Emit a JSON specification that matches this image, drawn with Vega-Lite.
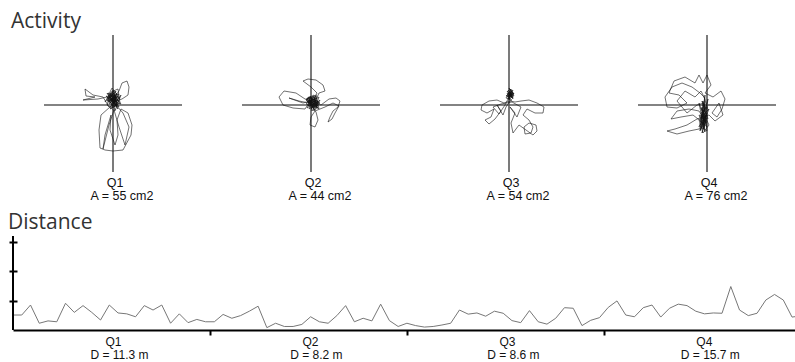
{
  "$schema": "https://vega.github.io/schema/vega-lite/v6.json",
  "background": "white",
  "padding": {"left": 8, "top": 11, "right": 0, "bottom": 0},
  "spacing": 9,
  "config": {
    "view": {"stroke": null},
    "title": {"font": "Open Sans", "fontSize": 21, "fontWeight": "normal", "color": "#333", "anchor": "start", "offset": 2}
  },
  "datasets": {
    "act": [
      {"q":"Q1","area":"A = 55 cm2"},{"q":"Q2","area":"A = 44 cm2"},{"q":"Q3","area":"A = 54 cm2"},{"q":"Q4","area":"A = 76 cm2"},
      {"q":"Q1","i":1,"x":0,"y":2},{"q":"Q1","i":2,"x":3,"y":8},{"q":"Q1","i":3,"x":-2,"y":12},{"q":"Q1","i":4,"x":-6,"y":6},{"q":"Q1","i":5,"x":2,"y":-2},
      {"q":"Q1","i":6,"x":5,"y":5},{"q":"Q1","i":7,"x":-4,"y":10},{"q":"Q1","i":8,"x":-8,"y":3},{"q":"Q1","i":9,"x":1,"y":14},{"q":"Q1","i":10,"x":4,"y":0},
      {"q":"Q1","i":11,"x":-3,"y":-4},{"q":"Q1","i":12,"x":6,"y":8},{"q":"Q1","i":13,"x":-1,"y":17},{"q":"Q1","i":14,"x":-5,"y":9},{"q":"Q1","i":15,"x":3,"y":3},
      {"q":"Q1","i":16,"x":8,"y":10},{"q":"Q1","i":17,"x":2,"y":-6},{"q":"Q1","i":18,"x":-6,"y":0},{"q":"Q1","i":19,"x":-2,"y":13},{"q":"Q1","i":20,"x":5,"y":16},
      {"q":"Q1","i":21,"x":7,"y":2},{"q":"Q1","i":22,"x":-4,"y":-2},{"q":"Q1","i":23,"x":-10,"y":8},{"q":"Q1","i":24,"x":-20,"y":10},{"q":"Q1","i":25,"x":-28,"y":16},
      {"q":"Q1","i":26,"x":-27,"y":9},{"q":"Q1","i":27,"x":-18,"y":8},{"q":"Q1","i":28,"x":-30,"y":5},{"q":"Q1","i":29,"x":-15,"y":6},{"q":"Q1","i":30,"x":-6,"y":8},
      {"q":"Q1","i":31,"x":0,"y":5},{"q":"Q1","i":32,"x":4,"y":11},{"q":"Q1","i":33,"x":-3,"y":2},{"q":"Q1","i":34,"x":2,"y":9},{"q":"Q1","i":35,"x":6,"y":14},
      {"q":"Q1","i":36,"x":9,"y":22},{"q":"Q1","i":37,"x":14,"y":24},{"q":"Q1","i":38,"x":16,"y":18},{"q":"Q1","i":39,"x":15,"y":10},{"q":"Q1","i":40,"x":9,"y":6},
      {"q":"Q1","i":41,"x":3,"y":4},{"q":"Q1","i":42,"x":-3,"y":-2},{"q":"Q1","i":43,"x":-12,"y":-10},{"q":"Q1","i":44,"x":-14,"y":-25},{"q":"Q1","i":45,"x":-13,"y":-43},
      {"q":"Q1","i":46,"x":-8,"y":-45},{"q":"Q1","i":47,"x":0,"y":-46},{"q":"Q1","i":48,"x":10,"y":-45},{"q":"Q1","i":49,"x":18,"y":-30},{"q":"Q1","i":50,"x":19,"y":-20},
      {"q":"Q1","i":51,"x":15,"y":-8},{"q":"Q1","i":52,"x":8,"y":-4},{"q":"Q1","i":53,"x":4,"y":-15},{"q":"Q1","i":54,"x":5,"y":-30},{"q":"Q1","i":55,"x":2,"y":-40},
      {"q":"Q1","i":56,"x":-3,"y":-25},{"q":"Q1","i":57,"x":-2,"y":-10},{"q":"Q1","i":58,"x":-8,"y":-30},{"q":"Q1","i":59,"x":-10,"y":-44},{"q":"Q1","i":60,"x":-4,"y":-20},
      {"q":"Q1","i":61,"x":1,"y":-5},{"q":"Q1","i":62,"x":6,"y":-22},{"q":"Q1","i":63,"x":12,"y":-40},{"q":"Q1","i":64,"x":16,"y":-22},{"q":"Q1","i":65,"x":10,"y":-8},
      {"q":"Q1","i":66,"x":3,"y":0},{"q":"Q1","i":67,"x":-2,"y":6},{"q":"Q1","i":68,"x":4,"y":3},{"q":"Q1","i":69,"x":-5,"y":12},{"q":"Q1","i":70,"x":0,"y":10},
      {"q":"Q1","i":71,"x":6,"y":-2},{"q":"Q1","i":72,"x":-1,"y":4},{"q":"Q1","i":73,"x":3,"y":14},{"q":"Q1","i":74,"x":-4,"y":7},{"q":"Q1","i":75,"x":1,"y":1},
      {"q":"Q1","i":76,"x":2,"y":6},{"q":"Q1","i":77,"x":-5,"y":3},{"q":"Q1","i":78,"x":4,"y":12},{"q":"Q1","i":79,"x":-1,"y":-3},{"q":"Q1","i":80,"x":6,"y":4},
      {"q":"Q1","i":81,"x":-7,"y":9},{"q":"Q1","i":82,"x":3,"y":-1},{"q":"Q1","i":83,"x":0,"y":15},{"q":"Q1","i":84,"x":-4,"y":1},{"q":"Q1","i":85,"x":7,"y":7},
      {"q":"Q1","i":86,"x":-2,"y":10},{"q":"Q1","i":87,"x":5,"y":-4},{"q":"Q1","i":88,"x":-6,"y":12},{"q":"Q1","i":89,"x":1,"y":3},{"q":"Q1","i":90,"x":4,"y":8},
      {"q":"Q1","i":91,"x":-3,"y":5},{"q":"Q1","i":92,"x":8,"y":1},{"q":"Q1","i":93,"x":-1,"y":13},{"q":"Q1","i":94,"x":2,"y":-5},{"q":"Q1","i":95,"x":-5,"y":7},
      {"q":"Q1","i":96,"x":6,"y":11},{"q":"Q1","i":97,"x":0,"y":1},{"q":"Q1","i":98,"x":-3,"y":11},{"q":"Q1","i":99,"x":3,"y":6},{"q":"Q1","i":100,"x":-2,"y":0},
      {"q":"Q1","i":101,"x":5,"y":9},{"q":"Q1","i":102,"x":-6,"y":4},{"q":"Q1","i":103,"x":1,"y":12},{"q":"Q1","i":104,"x":4,"y":-2},{"q":"Q1","i":105,"x":-1,"y":7},

      {"q":"Q2","i":1,"x":0,"y":0},{"q":"Q2","i":2,"x":4,"y":6},{"q":"Q2","i":3,"x":-3,"y":3},{"q":"Q2","i":4,"x":6,"y":-2},{"q":"Q2","i":5,"x":2,"y":9},
      {"q":"Q2","i":6,"x":-4,"y":-3},{"q":"Q2","i":7,"x":7,"y":4},{"q":"Q2","i":8,"x":1,"y":-6},{"q":"Q2","i":9,"x":-2,"y":8},{"q":"Q2","i":10,"x":9,"y":2},
      {"q":"Q2","i":11,"x":3,"y":-3},{"q":"Q2","i":12,"x":-5,"y":5},{"q":"Q2","i":13,"x":5,"y":10},{"q":"Q2","i":14,"x":8,"y":-4},{"q":"Q2","i":15,"x":0,"y":4},
      {"q":"Q2","i":16,"x":-6,"y":6},{"q":"Q2","i":17,"x":-15,"y":12},{"q":"Q2","i":18,"x":-27,"y":14},{"q":"Q2","i":19,"x":-32,"y":8},{"q":"Q2","i":20,"x":-28,"y":0},
      {"q":"Q2","i":21,"x":-18,"y":-3},{"q":"Q2","i":22,"x":-6,"y":-4},{"q":"Q2","i":23,"x":-2,"y":2},{"q":"Q2","i":24,"x":-12,"y":4},{"q":"Q2","i":25,"x":-22,"y":7},
      {"q":"Q2","i":26,"x":-8,"y":2},{"q":"Q2","i":27,"x":3,"y":5},{"q":"Q2","i":28,"x":6,"y":12},{"q":"Q2","i":29,"x":0,"y":18},{"q":"Q2","i":30,"x":-8,"y":24},
      {"q":"Q2","i":31,"x":-3,"y":26},{"q":"Q2","i":32,"x":5,"y":25},{"q":"Q2","i":33,"x":12,"y":20},{"q":"Q2","i":34,"x":14,"y":14},{"q":"Q2","i":35,"x":8,"y":12},
      {"q":"Q2","i":36,"x":4,"y":3},{"q":"Q2","i":37,"x":10,"y":0},{"q":"Q2","i":38,"x":18,"y":6},{"q":"Q2","i":39,"x":25,"y":7},{"q":"Q2","i":40,"x":29,"y":4},
      {"q":"Q2","i":41,"x":27,"y":-2},{"q":"Q2","i":42,"x":22,"y":-6},{"q":"Q2","i":43,"x":19,"y":-12},{"q":"Q2","i":44,"x":17,"y":-17},{"q":"Q2","i":45,"x":21,"y":-14},
      {"q":"Q2","i":46,"x":24,"y":-8},{"q":"Q2","i":47,"x":28,"y":-1},{"q":"Q2","i":48,"x":22,"y":2},{"q":"Q2","i":49,"x":14,"y":-2},{"q":"Q2","i":50,"x":4,"y":-6},
      {"q":"Q2","i":51,"x":0,"y":-12},{"q":"Q2","i":52,"x":-1,"y":-20},{"q":"Q2","i":53,"x":4,"y":-22},{"q":"Q2","i":54,"x":7,"y":-15},{"q":"Q2","i":55,"x":5,"y":-7},
      {"q":"Q2","i":56,"x":-1,"y":1},{"q":"Q2","i":57,"x":6,"y":5},{"q":"Q2","i":58,"x":2,"y":-2},{"q":"Q2","i":59,"x":-4,"y":6},{"q":"Q2","i":60,"x":3,"y":8},
      {"q":"Q2","i":61,"x":7,"y":-1},{"q":"Q2","i":62,"x":0,"y":3},{"q":"Q2","i":63,"x":-3,"y":-1},{"q":"Q2","i":64,"x":4,"y":2},
      {"q":"Q2","i":65,"x":3,"y":1},{"q":"Q2","i":66,"x":-4,"y":4},{"q":"Q2","i":67,"x":6,"y":7},{"q":"Q2","i":68,"x":0,"y":-4},{"q":"Q2","i":69,"x":8,"y":3},
      {"q":"Q2","i":70,"x":-3,"y":8},{"q":"Q2","i":71,"x":2,"y":-1},{"q":"Q2","i":72,"x":5,"y":9},{"q":"Q2","i":73,"x":-5,"y":1},{"q":"Q2","i":74,"x":7,"y":-3},
      {"q":"Q2","i":75,"x":1,"y":6},{"q":"Q2","i":76,"x":-2,"y":-4},{"q":"Q2","i":77,"x":9,"y":5},{"q":"Q2","i":78,"x":4,"y":-5},{"q":"Q2","i":79,"x":-4,"y":7},
      {"q":"Q2","i":80,"x":2,"y":3},{"q":"Q2","i":81,"x":6,"y":0},{"q":"Q2","i":82,"x":-1,"y":9},{"q":"Q2","i":83,"x":3,"y":-6},{"q":"Q2","i":84,"x":8,"y":8},
      {"q":"Q2","i":85,"x":-3,"y":2},{"q":"Q2","i":86,"x":5,"y":4},{"q":"Q2","i":87,"x":0,"y":7},{"q":"Q2","i":88,"x":4,"y":-2},{"q":"Q2","i":89,"x":-2,"y":5},
      {"q":"Q2","i":90,"x":7,"y":2},{"q":"Q2","i":91,"x":1,"y":-3},{"q":"Q2","i":92,"x":-5,"y":6},{"q":"Q2","i":93,"x":3,"y":10},{"q":"Q2","i":94,"x":6,"y":-4},

      {"q":"Q3","i":1,"x":0,"y":10},{"q":"Q3","i":2,"x":3,"y":14},{"q":"Q3","i":3,"x":-1,"y":8},{"q":"Q3","i":4,"x":5,"y":12},{"q":"Q3","i":5,"x":1,"y":6},
      {"q":"Q3","i":6,"x":-2,"y":12},{"q":"Q3","i":7,"x":4,"y":9},{"q":"Q3","i":8,"x":2,"y":16},{"q":"Q3","i":9,"x":-3,"y":7},{"q":"Q3","i":10,"x":3,"y":5},
      {"q":"Q3","i":11,"x":-5,"y":2},{"q":"Q3","i":12,"x":-12,"y":5},{"q":"Q3","i":13,"x":-20,"y":4},{"q":"Q3","i":14,"x":-27,"y":0},{"q":"Q3","i":15,"x":-28,"y":-5},
      {"q":"Q3","i":16,"x":-22,"y":-8},{"q":"Q3","i":17,"x":-15,"y":-4},{"q":"Q3","i":18,"x":-18,"y":-12},{"q":"Q3","i":19,"x":-24,"y":-15},{"q":"Q3","i":20,"x":-20,"y":-19},
      {"q":"Q3","i":21,"x":-14,"y":-14},{"q":"Q3","i":22,"x":-8,"y":-6},{"q":"Q3","i":23,"x":-12,"y":0},{"q":"Q3","i":24,"x":-6,"y":-10},{"q":"Q3","i":25,"x":-3,"y":-2},
      {"q":"Q3","i":26,"x":1,"y":4},{"q":"Q3","i":27,"x":6,"y":3},{"q":"Q3","i":28,"x":12,"y":4},{"q":"Q3","i":29,"x":20,"y":5},{"q":"Q3","i":30,"x":28,"y":2},
      {"q":"Q3","i":31,"x":35,"y":-2},{"q":"Q3","i":32,"x":34,"y":-8},{"q":"Q3","i":33,"x":26,"y":-8},{"q":"Q3","i":34,"x":18,"y":-4},{"q":"Q3","i":35,"x":14,"y":-10},
      {"q":"Q3","i":36,"x":20,"y":-15},{"q":"Q3","i":37,"x":24,"y":-22},{"q":"Q3","i":38,"x":22,"y":-28},{"q":"Q3","i":39,"x":16,"y":-29},{"q":"Q3","i":40,"x":15,"y":-22},
      {"q":"Q3","i":41,"x":20,"y":-18},{"q":"Q3","i":42,"x":27,"y":-20},{"q":"Q3","i":43,"x":28,"y":-26},{"q":"Q3","i":44,"x":24,"y":-30},{"q":"Q3","i":45,"x":10,"y":-20},
      {"q":"Q3","i":46,"x":4,"y":-28},{"q":"Q3","i":47,"x":2,"y":-18},{"q":"Q3","i":48,"x":6,"y":-8},{"q":"Q3","i":49,"x":1,"y":-2},{"q":"Q3","i":50,"x":8,"y":-12},
      {"q":"Q3","i":51,"x":12,"y":-2},{"q":"Q3","i":52,"x":3,"y":3},{"q":"Q3","i":53,"x":-8,"y":1},{"q":"Q3","i":54,"x":-16,"y":-2},{"q":"Q3","i":55,"x":-10,"y":-9},
      {"q":"Q3","i":56,"x":-4,"y":0},{"q":"Q3","i":57,"x":0,"y":8},{"q":"Q3","i":58,"x":2,"y":12},{"q":"Q3","i":59,"x":-1,"y":15},{"q":"Q3","i":60,"x":4,"y":7},
      {"q":"Q3","i":61,"x":1,"y":11},
      {"q":"Q3","i":62,"x":2,"y":10},{"q":"Q3","i":63,"x":-2,"y":14},{"q":"Q3","i":64,"x":4,"y":6},{"q":"Q3","i":65,"x":0,"y":17},{"q":"Q3","i":66,"x":5,"y":11},
      {"q":"Q3","i":67,"x":-3,"y":9},{"q":"Q3","i":68,"x":1,"y":13},{"q":"Q3","i":69,"x":3,"y":7},{"q":"Q3","i":70,"x":-1,"y":11},{"q":"Q3","i":71,"x":4,"y":15},
      {"q":"Q3","i":72,"x":0,"y":5},{"q":"Q3","i":73,"x":2,"y":12},{"q":"Q3","i":74,"x":-2,"y":8},{"q":"Q3","i":75,"x":5,"y":9},{"q":"Q3","i":76,"x":1,"y":16},
      {"q":"Q3","i":77,"x":3,"y":11},{"q":"Q3","i":78,"x":-1,"y":6},{"q":"Q3","i":79,"x":4,"y":13},{"q":"Q3","i":80,"x":0,"y":9},{"q":"Q3","i":81,"x":2,"y":14},

      {"q":"Q4","i":1,"x":0,"y":0},{"q":"Q4","i":2,"x":-5,"y":-8},{"q":"Q4","i":3,"x":-2,"y":-18},{"q":"Q4","i":4,"x":-7,"y":-25},{"q":"Q4","i":5,"x":-1,"y":-12},
      {"q":"Q4","i":6,"x":-6,"y":-3},{"q":"Q4","i":7,"x":2,"y":-20},{"q":"Q4","i":8,"x":-4,"y":-28},{"q":"Q4","i":9,"x":-8,"y":-15},{"q":"Q4","i":10,"x":1,"y":-5},
      {"q":"Q4","i":11,"x":-3,"y":8},{"q":"Q4","i":12,"x":-7,"y":12},{"q":"Q4","i":13,"x":-15,"y":18},{"q":"Q4","i":14,"x":-25,"y":22},{"q":"Q4","i":15,"x":-35,"y":18},
      {"q":"Q4","i":16,"x":-42,"y":8},{"q":"Q4","i":17,"x":-40,"y":-2},{"q":"Q4","i":18,"x":-30,"y":-3},{"q":"Q4","i":19,"x":-20,"y":2},{"q":"Q4","i":20,"x":-28,"y":10},
      {"q":"Q4","i":21,"x":-38,"y":12},{"q":"Q4","i":22,"x":-33,"y":24},{"q":"Q4","i":23,"x":-22,"y":28},{"q":"Q4","i":24,"x":-12,"y":22},{"q":"Q4","i":25,"x":-8,"y":30},
      {"q":"Q4","i":26,"x":-4,"y":22},{"q":"Q4","i":27,"x":0,"y":30},{"q":"Q4","i":28,"x":4,"y":20},{"q":"Q4","i":29,"x":-2,"y":12},{"q":"Q4","i":30,"x":6,"y":8},
      {"q":"Q4","i":31,"x":14,"y":14},{"q":"Q4","i":32,"x":18,"y":6},{"q":"Q4","i":33,"x":15,"y":-4},{"q":"Q4","i":34,"x":10,"y":-12},{"q":"Q4","i":35,"x":5,"y":-8},
      {"q":"Q4","i":36,"x":12,"y":2},{"q":"Q4","i":37,"x":16,"y":-10},{"q":"Q4","i":38,"x":8,"y":-16},{"q":"Q4","i":39,"x":2,"y":-10},{"q":"Q4","i":40,"x":-10,"y":-14},
      {"q":"Q4","i":41,"x":-20,"y":-20},{"q":"Q4","i":42,"x":-32,"y":-24},{"q":"Q4","i":43,"x":-40,"y":-26},{"q":"Q4","i":44,"x":-30,"y":-29},{"q":"Q4","i":45,"x":-18,"y":-26},
      {"q":"Q4","i":46,"x":-8,"y":-24},{"q":"Q4","i":47,"x":-4,"y":-18},{"q":"Q4","i":48,"x":-14,"y":-10},{"q":"Q4","i":49,"x":-26,"y":-12},{"q":"Q4","i":50,"x":-36,"y":-14},
      {"q":"Q4","i":51,"x":-30,"y":-6},{"q":"Q4","i":52,"x":-18,"y":-4},{"q":"Q4","i":53,"x":-8,"y":-6},{"q":"Q4","i":54,"x":-3,"y":-14},{"q":"Q4","i":55,"x":-6,"y":-22},
      {"q":"Q4","i":56,"x":0,"y":-26},{"q":"Q4","i":57,"x":-2,"y":-8},{"q":"Q4","i":58,"x":-5,"y":4},{"q":"Q4","i":59,"x":-1,"y":-4},{"q":"Q4","i":60,"x":-7,"y":-12},
      {"q":"Q4","i":61,"x":0,"y":-16},{"q":"Q4","i":62,"x":-4,"y":-24},{"q":"Q4","i":63,"x":-2,"y":6},{"q":"Q4","i":64,"x":-6,"y":14},{"q":"Q4","i":65,"x":-12,"y":8},
      {"q":"Q4","i":66,"x":-22,"y":14},{"q":"Q4","i":67,"x":-30,"y":4},{"q":"Q4","i":68,"x":-20,"y":-8},{"q":"Q4","i":69,"x":-10,"y":0},{"q":"Q4","i":70,"x":-3,"y":2},
      {"q":"Q4","i":71,"x":-3,"y":-6},{"q":"Q4","i":72,"x":-7,"y":-16},{"q":"Q4","i":73,"x":0,"y":-22},{"q":"Q4","i":74,"x":-5,"y":-2},{"q":"Q4","i":75,"x":-2,"y":-27},
      {"q":"Q4","i":76,"x":-8,"y":-10},{"q":"Q4","i":77,"x":1,"y":-14},{"q":"Q4","i":78,"x":-4,"y":4},{"q":"Q4","i":79,"x":-6,"y":-20},{"q":"Q4","i":80,"x":0,"y":-8},
      {"q":"Q4","i":81,"x":-3,"y":-24},{"q":"Q4","i":82,"x":-8,"y":2},{"q":"Q4","i":83,"x":-1,"y":-18},{"q":"Q4","i":84,"x":-5,"y":-12},{"q":"Q4","i":85,"x":2,"y":-4},
      {"q":"Q4","i":86,"x":-7,"y":-26},{"q":"Q4","i":87,"x":-2,"y":10},{"q":"Q4","i":88,"x":-4,"y":-16},{"q":"Q4","i":89,"x":0,"y":-2},{"q":"Q4","i":90,"x":-6,"y":-8},
      {"q":"Q4","i":91,"x":-3,"y":-20},{"q":"Q4","i":92,"x":1,"y":6},{"q":"Q4","i":93,"x":-8,"y":-22},{"q":"Q4","i":94,"x":-1,"y":-10},{"q":"Q4","i":95,"x":-5,"y":-28},
      {"q":"Q4","i":96,"x":0,"y":-12},{"q":"Q4","i":97,"x":-4,"y":0}
    ],
    "dist": [
      {"i":0,"v":0.51},{"i":1,"v":0.51},{"i":2,"v":0.85},{"i":3,"v":0.23},{"i":4,"v":0.31},{"i":5,"v":0.28},{"i":6,"v":0.91},{"i":7,"v":0.60},{"i":8,"v":0.83},{"i":9,"v":0.60},
      {"i":10,"v":0.34},{"i":11,"v":0.85},{"i":12,"v":0.58},{"i":13,"v":0.55},{"i":14,"v":0.45},{"i":15,"v":0.83},{"i":16,"v":0.68},{"i":17,"v":0.85},{"i":18,"v":0.23},{"i":19,"v":0.55},
      {"i":20,"v":0.25},{"i":21,"v":0.36},{"i":22,"v":0.28},{"i":23,"v":0.28},{"i":24,"v":0.53},{"i":25,"v":0.40},{"i":26,"v":0.49},{"i":27,"v":0.64},{"i":28,"v":0.81},{"i":29,"v":0.08},
      {"i":30,"v":0.23},{"i":31,"v":0.12},{"i":32,"v":0.12},{"i":33,"v":0.19},{"i":34,"v":0.45},{"i":35,"v":0.28},{"i":36,"v":0.23},{"i":37,"v":0.49},{"i":38,"v":0.83},{"i":39,"v":0.28},
      {"i":40,"v":0.40},{"i":41,"v":0.31},{"i":42,"v":0.88},{"i":43,"v":0.32},{"i":44,"v":0.12},{"i":45,"v":0.23},{"i":46,"v":0.15},{"i":47,"v":0.10},{"i":48,"v":0.12},{"i":49,"v":0.17},
      {"i":50,"v":0.23},{"i":51,"v":0.68},{"i":52,"v":0.54},{"i":53,"v":0.58},{"i":54,"v":0.47},{"i":55,"v":0.64},{"i":56,"v":0.57},{"i":57,"v":0.32},{"i":58,"v":0.25},{"i":59,"v":0.66},
      {"i":60,"v":0.28},{"i":61,"v":0.20},{"i":62,"v":0.40},{"i":63,"v":0.76},{"i":64,"v":0.74},{"i":65,"v":0.15},{"i":66,"v":0.33},{"i":67,"v":0.42},{"i":68,"v":0.77},{"i":69,"v":0.99},
      {"i":70,"v":0.51},{"i":71,"v":0.45},{"i":72,"v":0.76},{"i":73,"v":0.85},{"i":74,"v":0.44},{"i":75,"v":0.74},{"i":76,"v":0.88},{"i":77,"v":0.83},{"i":78,"v":0.64},{"i":79,"v":0.55},
      {"i":80,"v":0.58},{"i":81,"v":0.57},{"i":82,"v":1.48},{"i":83,"v":0.68},{"i":84,"v":0.49},{"i":85,"v":0.57},{"i":86,"v":1.02},{"i":87,"v":1.21},{"i":88,"v":1.02},{"i":89,"v":0.44},
      {"i":90,"v":0.48}
    ],
    "quarters": [
      {"q":"Q1","mid":11.25,"d":"D = 11.3 m"},
      {"q":"Q2","mid":33.75,"d":"D = 8.2 m"},
      {"q":"Q3","mid":56.25,"d":"D = 8.6 m"},
      {"q":"Q4","mid":78.75,"d":"D = 15.7 m"}
    ]
  },
  "vconcat": [
    {
      "title": {"text": "Activity", "dx": -2},
      "data": {"name": "act"},
      "facet": {"column": {"field": "q", "type": "nominal", "header": {"title": null, "labels": false}}},
      "spacing": {"column": 28},
      "spec": {
        "width": 169,
        "height": 137,
        "layer": [
          {
            "transform": [{"filter": "datum.area != null"}],
            "mark": {"type": "rule", "color": "#5a5a5a", "strokeWidth": 1.6},
            "encoding": {
              "x": {"datum": -69, "type": "quantitative", "scale": {"domain": [-100, 69], "nice": false, "zero": false}, "axis": null},
              "x2": {"datum": 69},
              "y": {"datum": 0, "type": "quantitative", "scale": {"domain": [-67, 70], "nice": false, "zero": false}, "axis": null}
            }
          },
          {
            "transform": [{"filter": "datum.area != null"}],
            "mark": {"type": "rule", "color": "#5a5a5a", "strokeWidth": 1.6},
            "encoding": {
              "x": {"datum": 0, "type": "quantitative", "axis": null},
              "y": {"datum": -67, "type": "quantitative", "axis": null},
              "y2": {"datum": 70}
            }
          },
          {
            "transform": [{"filter": "isValid(datum.i)"}],
            "mark": {"type": "line", "color": "#111", "strokeWidth": 0.6},
            "encoding": {
              "x": {"field": "x", "type": "quantitative", "axis": null},
              "y": {"field": "y", "type": "quantitative", "axis": null},
              "order": {"field": "i", "type": "quantitative"}
            }
          },
          {
            "transform": [{"filter": "datum.area != null"}],
            "mark": {"type": "text", "font": "Liberation Sans", "fontSize": 12.5, "color": "#111", "baseline": "middle", "dy": 11, "dx": 2},
            "encoding": {
              "x": {"datum": 0, "type": "quantitative"},
              "y": {"datum": -67, "type": "quantitative"},
              "text": {"field": "q"}
            }
          },
          {
            "transform": [{"filter": "datum.area != null"}],
            "mark": {"type": "text", "font": "Liberation Sans", "fontSize": 12.5, "color": "#111", "baseline": "middle", "dy": 23.6, "dx": 9},
            "encoding": {
              "x": {"datum": 0, "type": "quantitative"},
              "y": {"datum": -67, "type": "quantitative"},
              "text": {"field": "area"}
            }
          }
        ]
      }
    },
    {
      "title": {"text": "Distance"},
      "width": 783,
      "height": 94,
      "layer": [
        {
          "data": {"name": "dist"},
          "mark": {"type": "line", "color": "#777", "strokeWidth": 1, "clip": true},
          "encoding": {
            "x": {"field": "i", "type": "quantitative", "scale": {"domain": [0, 89.45], "nice": false, "zero": false},
                  "axis": {"values": [22.5, 45, 67.5], "labels": false, "grid": false, "title": null, "domain": true, "domainColor": "#000", "domainWidth": 2, "ticks": true, "tickSize": 5, "tickWidth": 2, "tickColor": "#000"}},
            "y": {"field": "v", "type": "quantitative", "scale": {"domain": [0, 3.2], "nice": false},
                  "axis": {"values": [1, 2, 3], "labels": false, "grid": false, "title": null, "domain": false, "ticks": true, "tickSize": 8, "tickWidth": 2, "tickColor": "#000", "offset": -4}}
          }
        },
        {
          "data": {"values": [{"edge": "left"}]},
          "mark": {"type": "rule", "color": "#000", "strokeWidth": 2},
          "encoding": {
            "x": {"datum": 0, "type": "quantitative"},
            "y": {"datum": 0, "type": "quantitative"},
            "y2": {"datum": 3.2}
          }
        },
        {
          "data": {"name": "quarters"},
          "mark": {"type": "text", "font": "Liberation Sans", "fontSize": 12, "color": "#111", "baseline": "middle", "dy": 12, "dx": 2},
          "encoding": {
            "x": {"field": "mid", "type": "quantitative"},
            "y": {"datum": 0, "type": "quantitative"},
            "text": {"field": "q"}
          }
        },
        {
          "data": {"name": "quarters"},
          "mark": {"type": "text", "font": "Liberation Sans", "fontSize": 12, "color": "#111", "baseline": "middle", "dy": 24.5, "dx": 8},
          "encoding": {
            "x": {"field": "mid", "type": "quantitative"},
            "y": {"datum": 0, "type": "quantitative"},
            "text": {"field": "d"}
          }
        }
      ]
    }
  ]
}
